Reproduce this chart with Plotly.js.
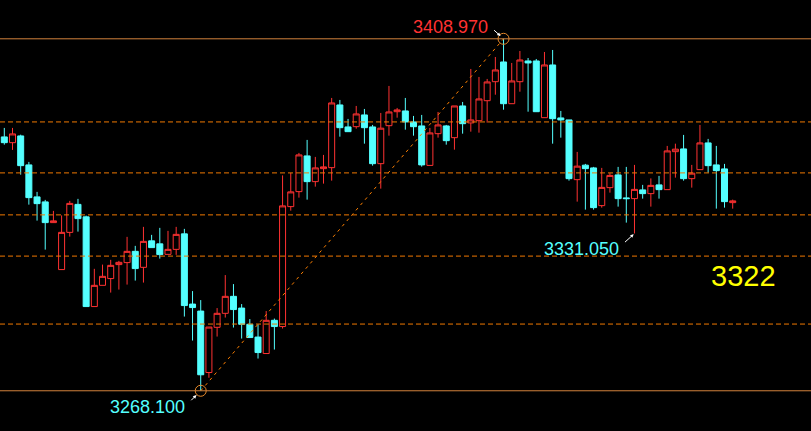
<!DOCTYPE html>
<html><head><meta charset="utf-8">
<script src="https://cdn.plot.ly/plotly-3.0.1.min.js"></script>
<style>html,body{margin:0;padding:0;background:#000;overflow:hidden}#chart{width:811px;height:431px}</style>
</head><body><div id="chart"></div>
<script>
const open = [3369.7,3367.4,3370.1,3358.5,3345.7,3343.7,3335.4,3316.6,3331.5,3342.7,
3337.7,3301.8,3310.3,3313.0,3318.6,3319.4,3323.9,3317.5,3328.1,3326.9,
3322.7,3324.7,3330.9,3302.8,3300.0,3275.4,3293.5,3299.1,3305.9,3301.2,
3294.7,3289.6,3283.0,3296.3,3293.8,3341.8,3347.8,3362.1,3351.8,3357.0,
3357.4,3382.5,3373.7,3373.8,3378.5,3373.7,3359.0,3374.2,3379.8,3380.1,
3375.7,3374.1,3358.3,3371.0,3374.1,3369.4,3382.1,3375.3,3376.2,3384.2,
3391.8,3399.7,3383.0,3391.8,3400.1,3400.1,3377.4,3398.5,3377.3,3376.5,
3352.6,3358.4,3357.3,3342.2,3349.4,3354.5,3345.3,3345.0,3348.5,3347.0,
3350.5,3348.6,3363.8,3364.9,3353.0,3356.6,3367.3,3358.5,3356.9,3343.4];
const high = [3373.3,3373.3,3370.6,3359.7,3347.7,3344.5,3340.1,3338.3,3344.1,3344.9,
3338.2,3316.9,3318.6,3320.5,3320.1,3329.7,3326.1,3333.7,3330.5,3333.3,
3332.1,3333.7,3332.9,3308.0,3304.4,3293.6,3301.2,3314.4,3310.8,3302.8,
3296.8,3294.7,3300.0,3297.0,3354.3,3355.3,3363.3,3368.5,3361.7,3362.5,
3385.3,3384.5,3376.9,3382.1,3380.9,3374.5,3379.3,3390.1,3381.3,3385.3,
3378.1,3378.5,3373.3,3379.7,3374.5,3382.1,3383.7,3396.9,3393.7,3392.9,
3401.7,3408.97,3399.3,3404.1,3401.3,3400.9,3403.7,3404.5,3380.1,3376.5,
3363.7,3358.9,3357.7,3357.3,3355.2,3357.7,3357.7,3358.5,3350.5,3353.1,
3354.1,3366.1,3367.0,3370.5,3358.5,3374.5,3368.9,3366.1,3358.9,3344.6];
const low = [3366.6,3364.5,3354.6,3342.6,3336.2,3324.6,3335.4,3316.6,3329.8,3331.8,
3301.8,3301.8,3310.3,3307.4,3308.6,3310.6,3312.2,3311.4,3325.4,3321.0,
3322.7,3322.5,3297.8,3288.2,3268.1,3273.3,3289.8,3297.4,3293.4,3289.0,
3289.4,3281.0,3283.0,3284.6,3293.0,3340.2,3345.4,3344.6,3349.8,3351.0,
3352.2,3369.8,3371.8,3373.0,3367.0,3358.2,3349.0,3370.2,3377.4,3372.6,
3370.2,3357.8,3358.3,3369.4,3366.6,3364.6,3371.0,3371.8,3371.4,3375.4,
3386.6,3380.6,3383.0,3387.8,3379.8,3379.8,3377.4,3367.0,3369.4,3352.2,
3343.8,3340.6,3340.6,3341.4,3347.4,3341.8,3335.4,3331.05,3345.0,3341.8,
3345.0,3348.6,3353.4,3352.2,3349.4,3356.6,3355.4,3341.0,3341.4,3341.0];
const close = [3367.4,3370.9,3358.2,3345.4,3343.0,3335.4,3336.1,3331.5,3343.1,3337.0,
3301.8,3310.3,3313.9,3318.3,3319.5,3323.9,3317.0,3327.9,3325.4,3322.6,
3324.7,3330.7,3302.2,3301.4,3274.5,3293.6,3299.1,3305.9,3300.6,3294.7,
3289.4,3283.4,3296.3,3293.8,3342.1,3347.7,3362.5,3351.8,3357.3,3357.7,
3383.3,3373.4,3371.8,3378.9,3373.4,3359.0,3373.2,3379.7,3380.5,3375.7,
3373.8,3358.5,3371.3,3374.5,3368.2,3382.1,3375.0,3376.5,3384.9,3391.7,
3396.5,3383.0,3392.1,3400.5,3399.3,3379.8,3398.5,3377.0,3376.5,3353.0,
3358.0,3357.0,3341.4,3349.5,3354.3,3345.0,3345.0,3348.7,3347.0,3350.3,
3348.6,3364.1,3364.8,3353.0,3355.2,3367.3,3358.2,3356.2,3343.8,3344.1];

const solidLevels = [3408.97, 3268.10];
const dashedLevels = [3375.7, 3355.3, 3338.5, 3322.0, 3294.8];
const trendIdx = [24, 61];
const trendPrice = [3268.10, 3408.97];
const extremeIdx = [61, 24, 77];
const extremePrice = [3408.97, 3268.10, 3331.05];
const extremeText = ['3408.970', '3268.100', '3331.050'];
const levelLabel = '3322';

const xs = open.map((_, i) => i);
const RED = '#ff3232', CYAN = '#54ffff';

const traces = [
  {type: 'candlestick', x: xs, open: open, high: high, low: low, close: close,
   increasing: {line: {color: RED, width: 1}, fillcolor: '#000000'},
   decreasing: {line: {color: CYAN, width: 1}, fillcolor: CYAN},
   whiskerwidth: 0, hoverinfo: 'skip', showlegend: false},
  {type: 'scatter', mode: 'lines', x: trendIdx, y: trendPrice,
   line: {color: '#ff8000', width: 1, dash: '3px,4px'}, hoverinfo: 'skip', showlegend: false},
  {type: 'scatter', mode: 'markers', x: trendIdx, y: trendPrice,
   marker: {symbol: 'circle-open', size: 11, color: '#e88a2a', line: {width: 1, color: '#e88a2a'}},
   hoverinfo: 'skip', showlegend: false}
];

const shapes = [];
solidLevels.forEach(v => shapes.push({type: 'line', xref: 'paper', x0: 0, x1: 1, yref: 'y', y0: v, y1: v,
  line: {color: '#d2823c', width: 1}, layer: 'above'}));
dashedLevels.forEach(v => shapes.push({type: 'line', xref: 'paper', x0: 0, x1: 1, yref: 'y', y0: v, y1: v,
  line: {color: '#f07800', width: 1, dash: '5px,3px'}, layer: 'above'}));

const W = 811, H = 431;
const px = v => v / W, py = v => 1 - v / H;
const annotations = [
  {xref: 'paper', yref: 'paper', x: px(450.5), y: py(27.5), text: extremeText[0], showarrow: false,
   xanchor: 'center', yanchor: 'middle', font: {family: 'Liberation Sans, Arial', size: 18, color: RED}},
  {xref: 'paper', yref: 'paper', x: px(147), y: py(406.5), text: extremeText[1], showarrow: false,
   xanchor: 'center', yanchor: 'middle', font: {family: 'Liberation Sans, Arial', size: 18, color: CYAN}},
  {xref: 'paper', yref: 'paper', x: px(581.5), y: py(249), text: extremeText[2], showarrow: false,
   xanchor: 'center', yanchor: 'middle', font: {family: 'Liberation Sans, Arial', size: 18, color: CYAN}},
  {xref: 'paper', yref: 'paper', x: px(743.5), y: py(276), text: levelLabel, showarrow: false,
   xanchor: 'center', yanchor: 'middle', font: {family: 'Liberation Sans, Arial', size: 29, color: '#ffff00'}},
  {x: extremeIdx[0], y: extremePrice[0], text: '', showarrow: true, ax: -11, ay: -10, standoff: 4,
   arrowcolor: '#ffffff', arrowhead: 2, arrowsize: 0.7, arrowwidth: 1},
  {x: extremeIdx[1], y: extremePrice[1], text: '', showarrow: true, ax: -11, ay: 11, standoff: 6,
   arrowcolor: '#ffffff', arrowhead: 2, arrowsize: 0.7, arrowwidth: 1},
  {x: extremeIdx[2], y: extremePrice[2], text: '', showarrow: true, ax: -11, ay: 10, standoff: 1,
   arrowcolor: '#ffffff', arrowhead: 2, arrowsize: 0.7, arrowwidth: 1}
];

const layout = {
  width: W, height: H, margin: {l: 0, r: 0, t: 0, b: 0, pad: 0},
  paper_bgcolor: '#000000', plot_bgcolor: '#000000',
  showlegend: false, boxgap: 0.267, boxgroupgap: 0,
  xaxis: {range: [-0.527, 98.569], visible: false, fixedrange: true, rangeslider: {visible: false}},
  yaxis: {range: [3252.0, 3424.5], visible: false, fixedrange: true},
  shapes: shapes, annotations: annotations
};
Plotly.newPlot('chart', traces, layout, {staticPlot: true, displayModeBar: false});
</script></body></html>
